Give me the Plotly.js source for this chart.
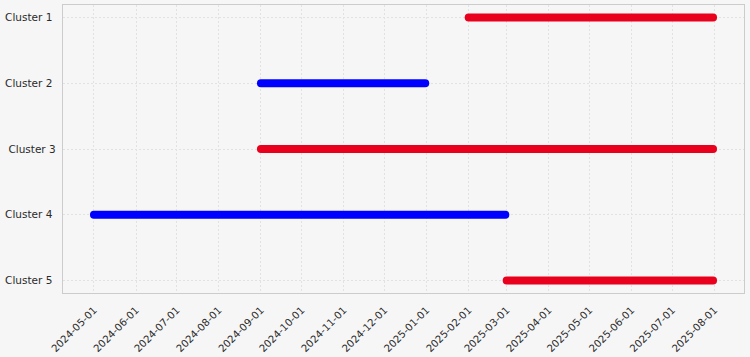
<!DOCTYPE html>
<html>
<head>
<meta charset="utf-8">
<script src="https://cdn.plot.ly/plotly-3.0.1.min.js"></script>
<style>
  html, body { margin: 0; padding: 0; background: #f6f6f6; }
  #chart { width: 750px; height: 357px; }
  .scatterlayer .js-line { stroke-linecap: round !important; }
</style>
</head>
<body>
<div id="chart"></div>
<script>
const clusters = ["Cluster 1", "Cluster 2", "Cluster 3", "Cluster 4", "Cluster 5"];
const clusterLabels = ["Cluster 1\u00A0", "Cluster 2\u00A0", "Cluster 3", "Cluster 4\u00A0", "Cluster 5\u00A0"];
const startDates = ["2025-02-01", "2024-09-01", "2024-09-01", "2024-05-01", "2025-03-01"];
const endDates   = ["2025-07-31", "2024-12-31", "2025-07-31", "2025-02-28", "2025-07-31"];
const clusterColors = ["#e8001c", "#0000ff", "#e8001c", "#0000ff", "#e8001c"];

const traces = clusters.map((c, i) => ({
  type: "scatter",
  mode: "lines",
  x: [startDates[i], endDates[i]],
  y: [c, c],
  line: { color: clusterColors[i], width: 8 },
  hoverinfo: "x+y",
  showlegend: false
}));

const yfont = { family: "DejaVu Sans, sans-serif", size: 10.5, color: "#2a2a2a" };
const xfont = { family: "DejaVu Sans, sans-serif", size: 10.2, color: "#2a2a2a" };

const layout = {
  width: 750, height: 357,
  margin: { l: 63, r: 6, t: 5, b: 64 },
  paper_bgcolor: "#f6f6f6",
  plot_bgcolor: "#f6f6f6",
  font: yfont,
  showlegend: false,
  xaxis: {
    type: "date",
    range: ["2024-04-08 04:48", "2025-08-22 19:12"],
    tick0: "2024-05-01",
    dtick: "M1",
    tickformat: "%Y-%m-%d",
    tickangle: -45,
    ticks: "",
    ticklabelstandoff: 6,
    showgrid: true,
    gridcolor: "#e2e2e2",
    gridwidth: 1,
    griddash: "2px,2px",
    showline: true,
    mirror: true,
    linecolor: "#cccccc",
    linewidth: 1.2,
    zeroline: false,
    tickfont: xfont
  },
  yaxis: {
    type: "category",
    categoryorder: "array",
    categoryarray: clusters,
    tickmode: "array",
    tickvals: clusters,
    ticktext: clusterLabels,
    range: [4.19, -0.19],
    ticks: "",
    ticklabelstandoff: 4,
    showgrid: true,
    gridcolor: "#e2e2e2",
    gridwidth: 1,
    griddash: "2px,2px",
    showline: true,
    mirror: true,
    linecolor: "#cccccc",
    linewidth: 1.2,
    zeroline: false,
    tickfont: yfont
  }
};

Plotly.newPlot("chart", traces, layout, { displayModeBar: false, staticPlot: true });
</script>
</body>
</html>
